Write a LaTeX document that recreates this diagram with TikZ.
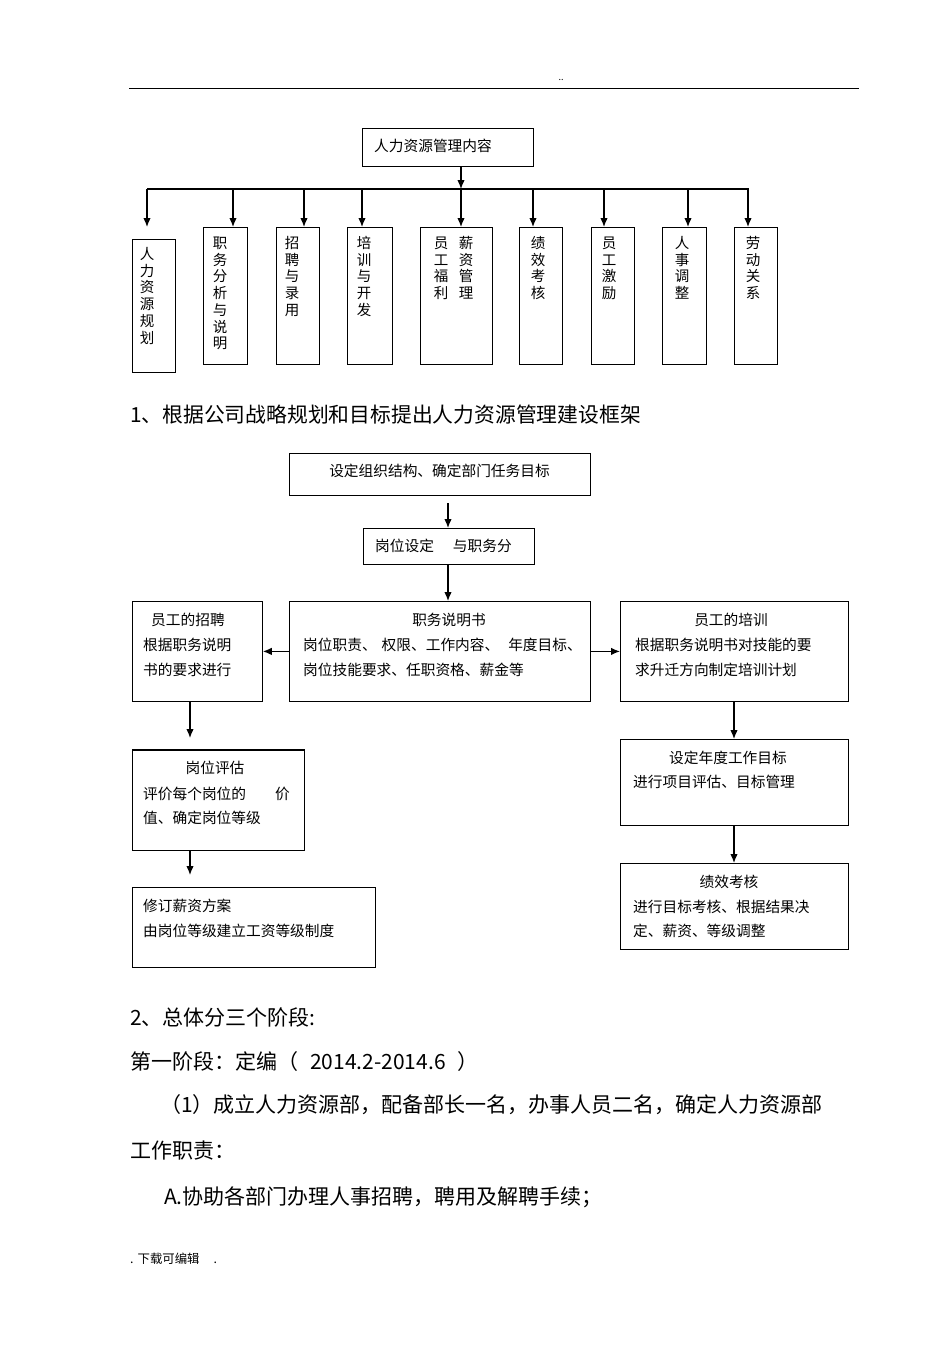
\documentclass[tikz,border=0pt]{standalone}
\usepackage{fontspec}
\setmainfont{Noto Sans CJK SC}
\usetikzlibrary{arrows.meta}
\newcommand\myfs[1]{\fontsize{#1}{#1}\selectfont}
\newcommand\vcol[4]{\foreach \c [count=\i from 0] in {#4} {\node[ch] (#1-\i) at (#2,{#3+16.7*\i}) {\c};}}
\begin{document}
\begin{tikzpicture}[x=1pt,y=-1pt,
  box/.style={draw,line width=0.8pt,inner sep=0,anchor=north west},
  arr/.style={line width=1.3pt,-{Latex[length=9pt,width=7.5pt]}},
  t/.style={inner sep=0,anchor=west,font=\myfs{14.7},text height=12.9pt,text depth=1.8pt},
  tc/.style={t,anchor=center},
  ch/.style={inner sep=0,font=\myfs{14.5},text height=12.8pt,text depth=1.7pt},
  body/.style={inner sep=0,anchor=west,font=\myfs{21},text height=18.5pt,text depth=2.6pt},
]
\useasboundingbox[fill=white] (0,0) rectangle (950,1345);
% header
\coordinate (h1) at (129,88); \coordinate (h2) at (859,88);
\draw[line width=0.9pt] (h1) -- (h2);
\node[inner sep=0,font=\myfs{9}] (hdots) at (561,80) {..};
% top tree
\node[box,minimum width=171pt,minimum height=38pt] (root) at (362,128) {};
\node[t] (roott) at (374,146) {人力资源管理内容};
\coordinate (bl) at (147,189); \coordinate (br) at (749,189);
\draw[line width=1.3pt] (bl) -- (br);
\coordinate (bm) at (461,189);
\draw[arr] (root.south -| bm) -- (bm);
\node[box,minimum width=43pt,minimum height=133pt] (k1) at (132,239) {};
\node[box,minimum width=44pt,minimum height=137pt] (k2) at (203,227) {};
\node[box,minimum width=43pt,minimum height=137pt] (k3) at (276,227) {};
\node[box,minimum width=45pt,minimum height=137pt] (k4) at (347,227) {};
\node[box,minimum width=72pt,minimum height=137pt] (k5) at (420,227) {};
\node[box,minimum width=43pt,minimum height=137pt] (k6) at (519,227) {};
\node[box,minimum width=43pt,minimum height=137pt] (k7) at (591,227) {};
\node[box,minimum width=44pt,minimum height=137pt] (k8) at (662,227) {};
\node[box,minimum width=43pt,minimum height=137pt] (k9) at (734,227) {};
\coordinate (a1) at (147,227);
\draw[arr] (bl) -- (a1);
\foreach \n/\x in {2/233,3/304,4/362,5/461,6/533,7/604,8/688,9/748}{
  \coordinate (b\n) at (\x,189);
  \draw[arr] (b\n) -- (b\n |- k\n.north);
}
\vcol{v1}{147}{254}{人,力,资,源,规,划}
\vcol{v2}{220}{243}{职,务,分,析,与,说,明}
\vcol{v3}{292}{243}{招,聘,与,录,用}
\vcol{v4}{364}{243}{培,训,与,开,发}
\vcol{v5a}{441}{243}{员,工,福,利}
\vcol{v5b}{466}{243}{薪,资,管,理}
\vcol{v6}{538}{243}{绩,效,考,核}
\vcol{v7}{609}{243}{员,工,激,励}
\vcol{v8}{682}{243}{人,事,调,整}
\vcol{v9}{753}{243}{劳,动,关,系}
% heading 1
\node[inner sep=0,anchor=west,font=\myfs{20.8},text height=18.3pt,text depth=2.5pt] (head1) at (130,415) {1、根据公司战略规划和目标提出人力资源管理建设框架};
% flowchart
\node[box,minimum width=301pt,minimum height=42pt] (A) at (289,453) {};
\node[tc] (At) at (439.5,471) {设定组织结构、确定部门任务目标};
\node[box,minimum width=171pt,minimum height=36pt] (B) at (363,528) {};
\node[t] (Bt) at (375,546) {岗位设定\hspace{19pt}与职务分};
\node[box,minimum width=301pt,minimum height=100pt] (C) at (289,601) {};
\node[tc] (Ct1) at (449,620) {职务说明书};
\node[t] (Ct2) at (303,645) {岗位职责、\hspace{5pt}权限、工作内容、\hspace{9pt}年度目标、};
\node[t] (Ct3) at (303,670) {岗位技能要求、任职资格、薪金等};
\coordinate (ab) at (448,503);
\draw[arr] (ab) -- (ab |- B.north);
\draw[arr] (ab |- B.south) -- (ab |- C.north);
\node[box,minimum width=130pt,minimum height=100pt] (L) at (132,601) {};
\node[t] (Lt1) at (151,620) {员工的招聘};
\node[t] (Lt2) at (143,645) {根据职务说明};
\node[t] (Lt3) at (143,670) {书的要求进行};
\node[box,minimum width=228pt,minimum height=100pt] (R) at (620,601) {};
\node[tc] (Rt1) at (731,620) {员工的培训};
\node[t] (Rt2) at (635,645) {根据职务说明书对技能的要};
\node[t] (Rt3) at (635,670) {求升迁方向制定培训计划};
\draw[arr] (C.west) -- (L.east);
\draw[arr] (C.east) -- (R.west);
% left column
\node[box,minimum width=172pt,minimum height=100pt] (L2) at (132,750) {};
\draw[line width=2.2pt] (L2.north west) -- (L2.north east);
\coordinate (lc1) at (190,738);
\draw[arr] (L.south -| lc1) -- (lc1);
\node[tc] (L2t1) at (215,768) {岗位评估};
\node[t] (L2t2) at (143,794) {评价每个岗位的\hspace{29pt}价};
\node[t] (L2t3) at (143,818) {值、确定岗位等级};
\node[box,minimum width=243pt,minimum height=80pt] (L3) at (132,887) {};
\coordinate (lc2) at (190,875);
\draw[arr] (L2.south -| lc2) -- (lc2);
\node[t] (L3t1) at (143,906) {修订薪资方案};
\node[t] (L3t2) at (143,931) {由岗位等级建立工资等级制度};
% right column
\node[box,minimum width=228pt,minimum height=86pt] (R2) at (620,739) {};
\coordinate (rc) at (734,700);
\draw[arr] (R.south -| rc) -- (R2.north -| rc);
\node[tc] (R2t1) at (728,758) {设定年度工作目标};
\node[t] (R2t2) at (633,782) {进行项目评估、目标管理};
\node[box,minimum width=228pt,minimum height=86pt] (R3) at (620,863) {};
\draw[arr] (R2.south -| rc) -- (R3.north -| rc);
\node[tc] (R3t1) at (729,882) {绩效考核};
\node[t] (R3t2) at (633,907) {进行目标考核、根据结果决};
\node[t] (R3t3) at (633,931) {定、薪资、等级调整};
% body text
\node[body] (p1) at (130,1018) {2、总体分三个阶段:};
\node[body] (p2) at (130,1062) {第一阶段：定编（\hspace{12pt}2014.2-2014.6\hspace{12pt}）};
\node[body] (p3) at (160,1105) {（1）成立人力资源部，配备部长一名，办事人员二名，确定人力资源部};
\node[body] (p4) at (130,1151) {工作职责：};
\node[body] (p5) at (164,1197) {A.协助各部门办理人事招聘，聘用及解聘手续；};
\node[inner sep=0,anchor=west,font=\myfs{12.4},text height=10.9pt,text depth=1.5pt] (foot) at (130,1259) {.\hspace{4pt}下载可编辑\hspace{14pt}.};
\end{tikzpicture}
\end{document}
